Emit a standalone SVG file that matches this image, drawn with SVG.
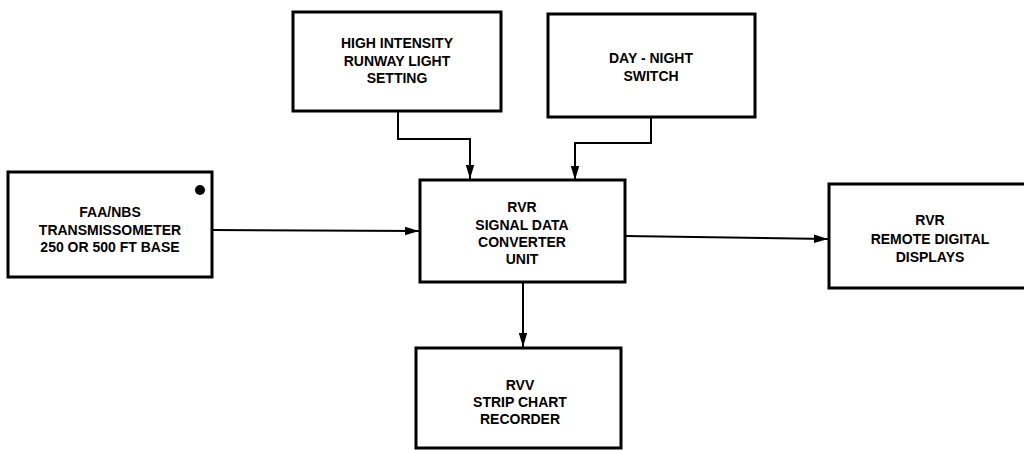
<svg xmlns="http://www.w3.org/2000/svg" width="1024" height="451" viewBox="0 0 1024 451">
<style>
.box{fill:#fff;stroke:#000;stroke-width:3}
.lbl{font-family:"Liberation Sans",Arial,sans-serif;font-size:14px;font-weight:bold;text-anchor:middle;fill:#000}
.con{fill:none;stroke:#000;stroke-width:2}
</style>
<defs>
<marker id="arr" markerUnits="userSpaceOnUse" markerWidth="16" markerHeight="10" refX="14" refY="5" orient="auto">
<path d="M0,0.8 L14,5 L0,9.2 Z" fill="#000"/>
</marker>
</defs>
<rect width="1024" height="451" fill="#fff"/>
<g id="connectors">
<path class="con" d="M212,230 L419,231" marker-end="url(#arr)"/>
<path class="con" d="M398,111 L398,139 L470,139 L470,179" marker-end="url(#arr)"/>
<path class="con" d="M651,117 L651,143 L575,143 L575,180" marker-end="url(#arr)"/>
<path class="con" d="M625,236 L828,239" marker-end="url(#arr)"/>
<path class="con" d="M523,282 L523,347" marker-end="url(#arr)"/>
</g>
<g id="transmissometer">
<rect class="box" x="8" y="172" width="204" height="105"/>
<circle cx="200" cy="190" r="5" fill="#000"/>
<text class="lbl" x="110" y="217">FAA/NBS</text>
<text class="lbl" x="110" y="235">TRANSMISSOMETER</text>
<text class="lbl" x="110" y="252">250 OR 500 FT BASE</text>
</g>
<g id="runway-light">
<rect class="box" x="293" y="12" width="208" height="99"/>
<text class="lbl" x="397" y="48">HIGH INTENSITY</text>
<text class="lbl" x="397" y="66">RUNWAY LIGHT</text>
<text class="lbl" x="397" y="83">SETTING</text>
</g>
<g id="day-night">
<rect class="box" x="548" y="14" width="207" height="103"/>
<text class="lbl" x="651" y="63">DAY - NIGHT</text>
<text class="lbl" x="651" y="81">SWITCH</text>
</g>
<g id="converter">
<rect class="box" x="420" y="180" width="205" height="102"/>
<text class="lbl" x="522" y="212">RVR</text>
<text class="lbl" x="522" y="230">SIGNAL DATA</text>
<text class="lbl" x="522" y="247">CONVERTER</text>
<text class="lbl" x="522" y="264">UNIT</text>
</g>
<g id="remote-displays">
<rect class="box" x="829" y="184" width="210" height="104"/>
<text class="lbl" x="930" y="225">RVR</text>
<text class="lbl" x="930" y="244">REMOTE DIGITAL</text>
<text class="lbl" x="930" y="262">DISPLAYS</text>
</g>
<g id="strip-chart">
<rect class="box" x="416" y="348" width="205" height="100"/>
<text class="lbl" x="520" y="390">RVV</text>
<text class="lbl" x="520" y="407">STRIP CHART</text>
<text class="lbl" x="520" y="424">RECORDER</text>
</g>
</svg>
